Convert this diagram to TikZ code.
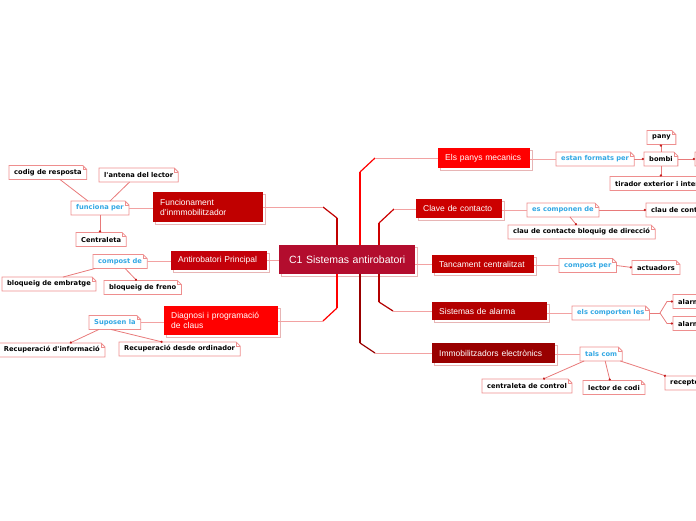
\documentclass[tikz,border=0pt]{standalone}
\usepackage{fontspec}
\setmainfont{Liberation Sans}
\newfontfamily\leaffont{DejaVu Sans}
\usetikzlibrary{arrows.meta,calc,shadows}
\definecolor{cenc}{HTML}{B30D2E}
\definecolor{funcc}{HTML}{C00000}
\definecolor{antic}{HTML}{C4000A}
\definecolor{diagc}{HTML}{FF0000}
\definecolor{panysc}{HTML}{FF0000}
\definecolor{clavec}{HTML}{CC0000}
\definecolor{tancc}{HTML}{C00000}
\definecolor{alarmc}{HTML}{B30000}
\definecolor{immobc}{HTML}{990000}
\definecolor{palec}{HTML}{F2A2A2}
\definecolor{leaflc}{HTML}{E87A7A}
\definecolor{leafbc}{HTML}{EE8E8E}
\definecolor{shadc}{HTML}{E7B5B5}
\definecolor{bluec}{HTML}{33A8E4}
\definecolor{dotc}{HTML}{C42020}
\begin{document}
\begin{tikzpicture}[x=1pt,y=-1pt,
  branch/.style={fill=#1, text=white, anchor=north west, align=left,
    font=\fontsize{8.5}{10}\selectfont, inner xsep=7pt, inner ysep=0pt,
    drop shadow={shadow xshift=2pt,shadow yshift=-2pt,fill=white,draw=shadc,opacity=1}},
  leaf/.style={fill=white, anchor=west, font=\leaffont\bfseries\fontsize{6.7}{8}\selectfont,
    inner xsep=5pt, inner ysep=0pt, minimum height=13.5pt},
  lab/.style={leaf, text=bluec},
  trunk/.style={draw=#1, line width=2.6pt},
  diagl/.style={draw=#1, line width=1.2pt},
  palel/.style={draw=palec, line width=0.9pt},
  leafl/.style={draw=leaflc, line width=0.8pt},
  dotl/.style={leafl, -{Circle[length=2.2pt,color=dotc]}},
  leafbox/.style={draw=leafbc, line width=0.8pt}
]
\useasboundingbox (0,0) rectangle (696,520);
\clip (0,0) rectangle (696,520);

% central node
\node[branch=cenc, text width=122pt, minimum height=29pt, align=center,
  font=\fontsize{10.5}{12}\selectfont] (cen) at (279,245) {C1 Sistemas antirobatori};

% branch nodes
\node[branch=funcc, text width=96pt, minimum height=30pt] (func) at (153,192) {Funcionament\\d'inmmobilitzador};
\node[branch=antic, text width=82pt, minimum height=19pt] (anti) at (171,251) {Antirobatori Principal};
\node[branch=diagc, text width=100pt, minimum height=29pt] (diag) at (164,306) {Diagnosi i programació\\de claus};
\node[branch=panysc, text width=78pt, minimum height=20pt] (panys) at (438,148) {Els panys mecanics};
\node[branch=clavec, text width=72pt, minimum height=19pt] (clave) at (416,199) {Clave de contacto};
\node[branch=tancc, text width=88pt, minimum height=18pt] (tanc) at (432,255) {Tancament centralitzat};
\node[branch=alarmc, text width=101pt, minimum height=18pt] (alarma) at (432,302) {Sistemas de alarma};
\node[branch=immobc, text width=109pt, minimum height=20pt] (immob) at (432,343) {Immobilitzadors electrònics};

% bend coordinates
\coordinate (fa) at (337,218); \coordinate (fb) at (323,207);
\coordinate (da) at (337,308); \coordinate (db) at (323,321);
\coordinate (pa) at (360,172); \coordinate (pb) at (375,158);
\coordinate (ca) at (379,223); \coordinate (cb) at (394,209);
\coordinate (aa) at (379,302); \coordinate (ab) at (393,311);
\coordinate (ia) at (360,343); \coordinate (ib) at (375,353);

% trunks
\draw[trunk=funcc] (cen.north -| fa) -- (fa);
\draw[diagl=funcc] (fa) -- (fb);
\draw[palel] (fb) -- (func.east |- fb);
\draw[trunk=diagc] (cen.south -| da) -- (da);
\draw[diagl=diagc] (da) -- (db);
\draw[palel] (db) -- (diag.east |- db);
\draw[palel] (anti.east -| cen.west) -- (anti.east);
\draw[trunk=panysc] (cen.north -| pa) -- (pa);
\draw[diagl=panysc] (pa) -- (pb);
\draw[palel] (pb) -- (panys.west |- pb);
\draw[trunk=clavec] (cen.north -| ca) -- (ca);
\draw[diagl=clavec] (ca) -- (cb);
\draw[palel] (cb) -- (clave.west |- cb);
\draw[palel] (tanc.west -| cen.east) -- (tanc.west);
\draw[trunk=alarmc] (cen.south -| aa) -- (aa);
\draw[diagl=alarmc] (aa) -- (ab);
\draw[palel] (ab) -- (alarma.west |- ab);
\draw[trunk=immobc] (cen.south -| ia) -- (ia);
\draw[diagl=immobc] (ia) -- (ib);
\draw[palel] (ib) -- (immob.west |- ib);

% leaves (left)
\node[leaf] (codig) at (9,172.5) {codig de resposta};
\node[leaf] (antena) at (99,175) {l'antena del lector};
\node[lab] (funciona) at (71,208) {funciona per};
\node[leaf] (centraleta) at (76,239.5) {Centraleta};
\node[lab] (compost) at (93,261.5) {compost de};
\node[leaf] (embratge) at (2,284) {bloqueig de embratge};
\node[leaf] (freno) at (104,287.5) {bloqueig de freno};
\node[lab] (suposen) at (89,322.5) {Suposen la};
\node[leaf, anchor=east] (recinfo) at (105,350) {Recuperació d'informació};
\node[leaf] (record) at (119,349) {Recuperació desde ordinador};
% leaves (right)
\node[lab] (formats) at (556,159) {estan formats per};
\node[leaf] (bombi) at (644,159) {bombi};
\node[leaf] (pany) at (647,137.5) {pany};
\node[leaf] (tirador) at (610,183.5) {tirador exterior i interior};
\node[leaf, minimum width=30pt] (bombiR) at (695,159) {};
\node[lab] (componen) at (527,210) {es componen de};
\node[leaf] (claucont) at (646,210) {clau de contacte};
\node[leaf] (bloqdir) at (508,232) {clau de contacte bloquig de direcció};
\node[lab] (compostper) at (559,265.5) {compost per};
\node[leaf] (actuadors) at (632,267.5) {actuadors};
\node[lab] (comporten) at (572,313) {els comporten les};
\node[leaf] (alarmA) at (673,301.5) {alarma};
\node[leaf] (alarmB) at (673,323.5) {alarma};
\node[lab] (talscom) at (580,354) {tals com};
\node[leaf] (centcontrol) at (482,386) {centraleta de control};
\node[leaf] (lector) at (583,387.5) {lector de codi};
\node[leaf] (receptor) at (665,383) {receptor};

% leaf outlines with folded corner
\foreach \n in {codig,antena,funciona,centraleta,compost,embratge,freno,suposen,recinfo,record,
  formats,bombi,pany,tirador,bombiR,componen,claucont,bloqdir,compostper,actuadors,comporten,
  alarmA,alarmB,talscom,centcontrol,lector,receptor}{
  \draw[leafbox] (\n.north west) -- ([xshift=-4pt]\n.north east) -- ([yshift=-4pt]\n.north east)
    -- (\n.south east) -- (\n.south west) -- cycle;
  \draw[leafbox, line width=0.6pt] ([xshift=-4pt]\n.north east) -- ([xshift=-4pt,yshift=-4pt]\n.north east)
    -- ([yshift=-4pt]\n.north east);
}

% connectors to labels and leaves
\draw[palel] (func.west |- funciona.east) -- (funciona.east);
\draw[leafl] ([xshift=-12pt]funciona.north) -- ([xshift=12pt]codig.south);
\draw[leafl] ([xshift=10pt]funciona.north) -- ([xshift=-9pt]antena.south);
\draw[dotl] (funciona.south) -- (funciona.south |- centraleta.north);
\draw[palel] (anti.west |- compost.east) -- (compost.east);
\draw[leafl] ([xshift=-25pt]compost.south) -- ([xshift=14pt]embratge.north);
\draw[dotl] ([xshift=5pt]compost.south) -- ([xshift=-6pt]freno.north);
\draw[palel] (diag.west |- suposen.east) -- (suposen.east);
\draw[dotl] ([xshift=-16pt]suposen.south) -- ([xshift=18pt]recinfo.north);
\draw[dotl] ([xshift=-4pt]suposen.south) -- ([xshift=-17pt]record.north);

\draw[palel] (panys.east |- formats.west) -- (formats.west);
\draw[dotl] (formats.east) -- (bombi.west);
\draw[dotl] (bombi.north) -- (bombi.north |- pany.south);
\draw[dotl] (bombi.south) -- (bombi.south |- tirador.north);
\draw[dotl] (bombi.east) -- (bombiR.west);
\draw[palel] (clave.east |- componen.west) -- (componen.west);
\draw[dotl] (componen.east) -- (claucont.west);
\draw[dotl] ([xshift=7pt]componen.south) -- ([xshift=-5pt]bloqdir.north);
\draw[palel] (tanc.east |- compostper.west) -- (compostper.west);
\draw[dotl] (compostper.east) -- (actuadors.west);
\draw[palel] (alarma.east |- comporten.west) -- (comporten.west);
\coordinate (fk) at (660,313);
\coordinate (fk1) at (667,301.5);
\coordinate (fk2) at (667,323.5);
\draw[leafl] (comporten.east) -- (fk);
\draw[dotl] (fk) -- (fk1) -- (alarmA.west);
\draw[dotl] (fk) -- (fk2) -- (alarmB.west);
\draw[palel] (immob.east |- talscom.west) -- (talscom.west);
\draw[dotl] ([xshift=-17pt]talscom.south) -- ([xshift=16pt]centcontrol.north);
\draw[dotl] ([xshift=4pt]talscom.south) -- ([xshift=-4pt]lector.north);
\draw[dotl] ([xshift=-2pt]talscom.south east) -- ([xshift=1pt]receptor.north west);
\end{tikzpicture}
\end{document}
